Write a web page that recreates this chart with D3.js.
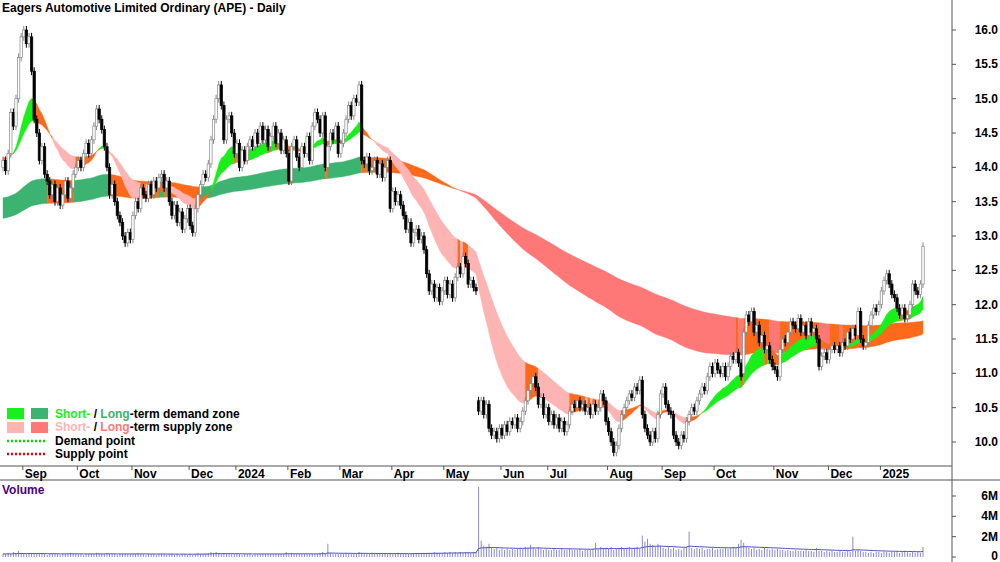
<!DOCTYPE html>
<html>
<head>
<meta charset="utf-8">
<script src="https://cdn.jsdelivr.net/npm/d3@7"></script>
<style>
  body { margin: 0; background: #fff; }
  svg { font-family: Arial, "Liberation Sans", sans-serif; }
</style>
</head>
<body>
<div id="chart"></div>
<script>
// daily closes, late Aug 2023 .. late Jan 2025
const closes = [
  14.1, 13.95, 14.2, 14.8, 14.6, 15.0, 15.6, 15.9, 16.0, 15.8,
  15.9, 15.4, 14.7, 14.5, 14.1, 14.3, 13.9, 13.8, 13.6, 13.75,
  13.5, 13.7, 13.45, 13.6, 13.8, 13.55, 13.7, 13.9, 14.0, 14.1,
  14.0, 14.2, 14.35, 14.2, 14.4, 14.6, 14.85, 14.7, 14.55, 14.3,
  14.0, 13.6, 13.75, 13.5, 13.3, 13.2, 13.0, 12.9, 13.05, 12.95,
  13.3, 13.5, 13.4, 13.7, 13.6, 13.55, 13.75, 13.6, 13.8, 13.7,
  13.85, 13.9, 13.7, 13.8, 13.5, 13.3, 13.45, 13.2, 13.35, 13.1,
  13.25, 13.4, 13.15, 13.05, 13.4, 13.6, 13.75, 13.9, 13.85, 14.05,
  14.4, 14.7, 15.0, 15.2, 14.9, 14.4, 14.7, 14.75, 14.5, 14.2,
  14.35, 14.0, 14.25, 14.1, 14.3, 14.4, 14.3, 14.5, 14.35, 14.6,
  14.4, 14.55, 14.3, 14.45, 14.6, 14.35, 14.5, 14.25, 14.4, 14.2,
  13.8, 14.3, 14.4, 14.15, 14.0, 14.3, 14.2, 14.45, 14.1, 14.6,
  14.8, 14.7, 14.5, 14.75, 14.0, 14.3, 14.5, 14.4, 14.6, 14.2,
  14.35, 14.5, 14.7, 14.9, 14.75, 15.0, 14.95, 15.2, 14.1, 14.05,
  14.15, 13.95, 14.0, 14.1, 13.9, 14.05, 13.85, 14.0, 14.1, 13.4,
  13.65, 13.5, 13.6, 13.45, 13.3, 13.1, 13.2, 12.9, 13.05, 13.1,
  12.95, 13.0, 12.8, 12.45, 12.2, 12.3, 12.1, 12.25, 12.05, 12.2,
  12.35, 12.15, 12.3, 12.1, 12.4, 12.55, 12.45, 12.7, 12.6, 12.3,
  12.35, 12.25, 12.2, 10.45, 10.6, 10.4, 10.55, 10.2, 10.1, 10.15,
  10.05, 10.2, 10.1, 10.25, 10.15, 10.3, 10.25, 10.35, 10.2, 10.3,
  10.45, 10.6, 10.75, 10.85, 10.95, 10.8, 10.55, 10.65, 10.4, 10.5,
  10.3, 10.4, 10.25, 10.35, 10.2, 10.3, 10.15, 10.25, 10.45, 10.55,
  10.5, 10.6, 10.5, 10.55, 10.45, 10.5, 10.4, 10.55, 10.45, 10.5,
  10.7, 10.6, 10.3, 10.15, 10.0, 9.85, 9.95, 10.2, 10.4, 10.5,
  10.6, 10.7, 10.65, 10.8, 10.75, 10.9, 10.4, 10.2, 10.1, 10.0,
  10.15, 10.05, 10.4, 10.7, 10.8, 10.55, 10.45, 10.4, 10.1, 10.0,
  9.95, 10.1, 10.05, 10.3, 10.4, 10.5, 10.45, 10.6, 10.7, 10.8,
  10.75, 10.95, 11.1, 11.0, 11.15, 11.05, 11.0, 11.1, 10.95, 11.1,
  11.25, 11.2, 11.3, 11.15, 10.95, 11.6, 11.85, 11.75, 11.9, 11.6,
  11.7, 11.45, 11.55, 11.35, 11.4, 11.2, 11.1, 11.05, 10.95, 11.35,
  11.5, 11.45, 11.6, 11.75, 11.7, 11.65, 11.8, 11.6, 11.7, 11.55,
  11.75, 11.6, 11.65, 11.5, 11.1, 11.25, 11.3, 11.2, 11.35, 11.4,
  11.35, 11.4, 11.3, 11.45, 11.4, 11.6, 11.5, 11.65, 11.55, 11.9,
  11.5, 11.4, 11.45, 11.7, 11.85, 11.95, 11.9, 12.0, 12.2, 12.35,
  12.45, 12.3, 12.15, 12.1, 11.95, 11.85, 11.95, 11.8, 11.85, 12.0,
  12.3, 12.2, 12.15, 12.3, 12.85
];

// opens that differ from the previous close (price gaps)
const gapOpens = { 0: 14.0, 183: 10.6, 285: 11.0 };

// daily volume, in millions
const volumes = [
  0.3, 0.3, 0.4, 0.3, 0.5, 0.4, 0.6, 0.4, 0.3, 0.3,
  0.3, 0.4, 0.3, 0.3, 0.4, 0.3, 0.3, 0.2, 0.3, 0.3,
  0.3, 0.3, 0.2, 0.3, 0.3, 0.3, 0.4, 0.3, 0.3, 0.3,
  0.3, 0.2, 0.3, 0.3, 0.3, 0.3, 0.4, 0.3, 0.3, 0.3,
  0.4, 0.3, 0.3, 0.3, 0.2, 0.3, 0.3, 0.3, 0.3, 0.3,
  0.3, 0.3, 0.4, 0.3, 0.3, 0.2, 0.3, 0.3, 0.3, 0.2,
  0.3, 0.3, 0.3, 0.2, 0.3, 0.3, 0.2, 0.3, 0.2, 0.3,
  0.3, 0.2, 0.3, 0.2, 0.3, 0.4, 0.3, 0.3, 0.3, 0.4,
  0.5, 0.4, 0.5, 0.4, 0.3, 0.4, 0.3, 0.3, 0.3, 0.3,
  0.3, 0.3, 0.2, 0.3, 0.3, 0.3, 0.2, 0.3, 0.3, 0.3,
  0.3, 0.3, 0.3, 0.3, 0.3, 0.3, 0.3, 0.3, 0.3, 0.5,
  0.3, 0.4, 0.3, 0.3, 0.3, 0.3, 0.3, 0.3, 0.3, 0.3,
  0.3, 0.3, 0.4, 0.5, 0.3, 1.3, 0.4, 0.3, 0.3, 0.3,
  0.3, 0.3, 0.4, 0.3, 0.3, 0.3, 0.3, 0.5, 0.4, 0.3,
  0.3, 0.3, 0.4, 0.3, 0.3, 0.3, 0.3, 0.3, 0.3, 0.4,
  0.3, 0.3, 0.4, 0.3, 0.3, 0.3, 0.3, 0.3, 0.4, 0.4,
  0.4, 0.4, 0.4, 0.4, 0.4, 0.4, 0.5, 0.4, 0.4, 0.4,
  0.5, 0.4, 0.5, 0.4, 0.5, 0.4, 0.5, 0.4, 0.5, 0.5,
  0.4, 0.5, 0.5, 6.9, 1.6, 1.1, 1.0, 1.3, 0.9, 0.8,
  0.9, 0.7, 0.8, 0.7, 0.8, 0.7, 0.8, 0.7, 0.8, 0.9,
  0.8, 1.0, 0.9, 1.2, 0.9, 0.8, 1.0, 0.8, 0.7, 0.8,
  0.7, 0.7, 0.8, 0.7, 0.7, 0.8, 0.7, 0.7, 0.8, 0.7,
  0.7, 0.7, 0.8, 0.6, 0.7, 0.7, 0.7, 0.8, 1.4, 0.8,
  1.0, 0.9, 0.9, 0.8, 1.0, 0.7, 0.8, 0.9, 1.0, 0.8,
  0.9, 1.0, 0.8, 0.9, 1.0, 0.8, 2.1, 1.5, 1.8, 1.3,
  1.2, 1.0, 1.3, 1.1, 0.9, 0.8, 1.0, 0.8, 0.9, 0.7,
  0.8, 0.7, 0.9, 1.0, 2.5, 0.9, 0.8, 0.9, 0.8, 0.9,
  0.7, 0.8, 0.8, 0.9, 0.7, 0.8, 0.8, 0.8, 0.9, 0.8,
  0.9, 1.0, 0.9, 1.3, 1.7, 1.4, 1.0, 0.9, 0.8, 0.9,
  0.7, 0.8, 0.7, 0.9, 0.8, 0.7, 0.8, 0.7, 0.8, 0.7,
  0.7, 0.6, 0.7, 0.6, 0.6, 0.7, 0.6, 0.6, 0.6, 0.7,
  0.6, 0.6, 0.5, 0.9, 0.6, 0.6, 0.5, 0.6, 0.5, 0.6,
  0.5, 0.5, 0.6, 0.5, 0.5, 0.6, 0.5, 2.0, 0.6, 0.7,
  0.6, 0.5, 0.5, 0.4, 0.5, 0.4, 0.5, 0.5, 0.4, 0.5,
  0.5, 0.4, 0.5, 0.5, 0.5, 0.4, 0.5, 0.6, 0.5, 0.4,
  0.5, 0.4, 0.5, 0.4, 1.0
];

const priceTicks = [10.0, 10.5, 11.0, 11.5, 12.0, 12.5, 13.0, 13.5, 14.0, 14.5, 15.0, 15.5, 16.0];
const volumeTicks = [0, 2, 4, 6];
// first trading day of each month (index into closes) and its label
const monthLabels = ["Sep", "Oct", "Nov", "Dec", "2024", "Feb", "Mar", "Apr", "May", "Jun",
                     "Jul", "Aug", "Sep", "Oct", "Nov", "Dec", "2025"];
const monthStarts = [8, 29, 50, 72, 90, 110, 130, 150, 170, 192, 210, 233, 254, 274, 297, 318, 338];

// zone averages: periods and the values they carry in from before the first day
const shortPeriods = [18, 36];
const longPeriods = [140, 230];
const shortSeeds = [14.1, 14.15];
const longSeeds = [13.55, 13.25];

const colors = {
  shortDemand: "#19ef19", longDemand: "#3cb371",
  shortSupply: "#ffb4b4", longSupply: "#ff7878",
  mixed: "#ff6a1a", volume: "#8a8ad6", purple: "#4b0082"
};

function ema(values, period, seed) {
  let a = 2 / (period + 1), prev = seed;
  return values.map((v) => (prev = prev + a * (v - prev)));
}

const W = 1000, H = 562;
const plotRight = 952;
const svg = d3.select("#chart").append("svg").attr("width", W).attr("height", H);

const x = d3.scaleLinear().domain([0, closes.length - 1]).range([3, 923]);
const y = d3.scaleLinear().domain([10, 16]).range([442, 30]);
const yv = d3.scaleLinear().domain([0, 6]).range([557, 496]);

// zones: consecutive days of the same colour drawn as one area
function drawZone(periods, seeds, up, down) {
  let a = ema(closes, periods[0], seeds[0]);
  let b = ema(closes, periods[1], seeds[1]);
  let fills = closes.map((c, i) => {
    let top = Math.max(a[i], b[i]), bot = Math.min(a[i], b[i]);
    if (a[i] >= b[i] && c > top) return up;
    if (a[i] < b[i] && c < bot) return down;
    return colors.mixed;
  });
  let area = d3.area().x((i) => x(i)).y0((i) => y(a[i])).y1((i) => y(b[i]));
  let g = svg.append("g");
  let start = 0;
  for (let i = 1; i <= closes.length; i++) {
    if (i === closes.length || fills[i] !== fills[start]) {
      let idx = d3.range(start, Math.min(i + 1, closes.length));
      if (idx.length === 1) idx.push(Math.min(start + 1, closes.length - 1));
      g.append("path").attr("d", area(idx))
        .attr("fill", fills[start]).attr("stroke", fills[start]).attr("stroke-width", 0.4);
      start = i;
    }
  }
}
drawZone(longPeriods, longSeeds, colors.longDemand, colors.longSupply);
drawZone(shortPeriods, shortSeeds, colors.shortDemand, colors.shortSupply);

// candles
const candles = svg.append("g");
closes.forEach((c, i) => {
  let o = gapOpens[i] !== undefined ? gapOpens[i] : closes[i - 1];
  let up = c >= o;
  let top = y(Math.max(o, c)), bot = y(Math.min(o, c));
  candles.append("line")
    .attr("x1", x(i)).attr("x2", x(i))
    .attr("y1", top - 4).attr("y2", bot + 4)
    .attr("stroke", up ? "#888" : "#000").attr("stroke-width", 1);
  candles.append("rect")
    .attr("x", x(i) - 1.2).attr("width", 2.4)
    .attr("y", top).attr("height", Math.max(1, bot - top))
    .attr("fill", up ? "#fff" : "#000")
    .attr("stroke", up ? "#888" : "#000").attr("stroke-width", 0.7);
});

// frame lines
svg.append("line").attr("x1", plotRight).attr("x2", plotRight).attr("y1", 0).attr("y2", H).attr("stroke", "#555");
svg.append("line").attr("x1", 0).attr("x2", plotRight).attr("y1", 466).attr("y2", 466).attr("stroke", "#555");
svg.append("line").attr("x1", 0).attr("x2", W).attr("y1", 480).attr("y2", 480).attr("stroke", "#555");

// price axis
priceTicks.forEach((t) => {
  svg.append("line").attr("x1", plotRight).attr("x2", plotRight + 4)
    .attr("y1", y(t)).attr("y2", y(t)).attr("stroke", "#555");
  svg.append("text").attr("x", 998).attr("y", y(t) + 4).attr("text-anchor", "end")
    .attr("font-size", 12).attr("font-weight", "bold").text(t.toFixed(1));
});

// month labels
monthStarts.forEach((idx, k) => {
  let xp = x(idx) - 1;
  svg.append("line").attr("x1", xp).attr("x2", xp).attr("y1", 466).attr("y2", 470).attr("stroke", "#555");
  svg.append("text").attr("x", xp + 2).attr("y", 478).attr("font-size", 12)
    .attr("font-weight", "bold").text(monthLabels[k]);
});

// volume
svg.append("g").selectAll("line").data(volumes).join("line")
  .attr("x1", (d, i) => x(i)).attr("x2", (d, i) => x(i))
  .attr("y1", yv(0)).attr("y2", (d) => yv(d))
  .attr("stroke", colors.volume).attr("stroke-width", 1);
let volAvg = ema(volumes, 30, 0.3);
svg.append("path")
  .attr("d", d3.line().x((d, i) => x(i)).y((d) => yv(d))(volAvg))
  .attr("fill", "none").attr("stroke", "#5050c0").attr("stroke-width", 1);
volumeTicks.forEach((t) => {
  svg.append("line").attr("x1", plotRight).attr("x2", plotRight + 4)
    .attr("y1", yv(t)).attr("y2", yv(t)).attr("stroke", "#555");
  svg.append("text").attr("x", 998).attr("y", t === 0 ? yv(t) + 3 : yv(t) + 4).attr("text-anchor", "end")
    .attr("font-size", 12).attr("font-weight", "bold").text(t === 0 ? "0" : t + "M");
});
svg.append("text").attr("x", 2).attr("y", 494).attr("font-size", 12).attr("font-weight", "bold")
  .attr("fill", colors.purple).text("Volume");

// title
svg.append("text").attr("x", 2).attr("y", 12).attr("font-size", 12).attr("font-weight", "bold")
  .text("Eagers Automotive Limited Ordinary (APE) - Daily");

// legend
const lg = svg.append("g").attr("font-size", 12).attr("font-weight", "bold");
lg.append("rect").attr("x", 7).attr("y", 408).attr("width", 17).attr("height", 11).attr("fill", colors.shortDemand);
lg.append("rect").attr("x", 31).attr("y", 408).attr("width", 17).attr("height", 11).attr("fill", colors.longDemand);
lg.append("rect").attr("x", 7).attr("y", 422).attr("width", 17).attr("height", 11).attr("fill", colors.shortSupply);
lg.append("rect").attr("x", 31).attr("y", 422).attr("width", 17).attr("height", 11).attr("fill", colors.longSupply);
let t1 = lg.append("text").attr("x", 55).attr("y", 418);
t1.append("tspan").attr("fill", colors.shortDemand).text("Short-");
t1.append("tspan").text(" / ");
t1.append("tspan").attr("fill", colors.longDemand).text("Long");
t1.append("tspan").text("-term demand zone");
let t2 = lg.append("text").attr("x", 55).attr("y", 431);
t2.append("tspan").attr("fill", colors.shortSupply).text("Short-");
t2.append("tspan").text(" / ");
t2.append("tspan").attr("fill", colors.longSupply).text("Long");
t2.append("tspan").text("-term supply zone");
lg.append("line").attr("x1", 7).attr("x2", 46).attr("y1", 441).attr("y2", 441)
  .attr("stroke", "#00dd00").attr("stroke-width", 2.5).attr("stroke-dasharray", "2,2");
lg.append("text").attr("x", 55).attr("y", 445).text("Demand point");
lg.append("line").attr("x1", 7).attr("x2", 46).attr("y1", 454).attr("y2", 454)
  .attr("stroke", "#ee0000").attr("stroke-width", 2.5).attr("stroke-dasharray", "2,2");
lg.append("text").attr("x", 55).attr("y", 458).text("Supply point");
</script>
</body>
</html>
